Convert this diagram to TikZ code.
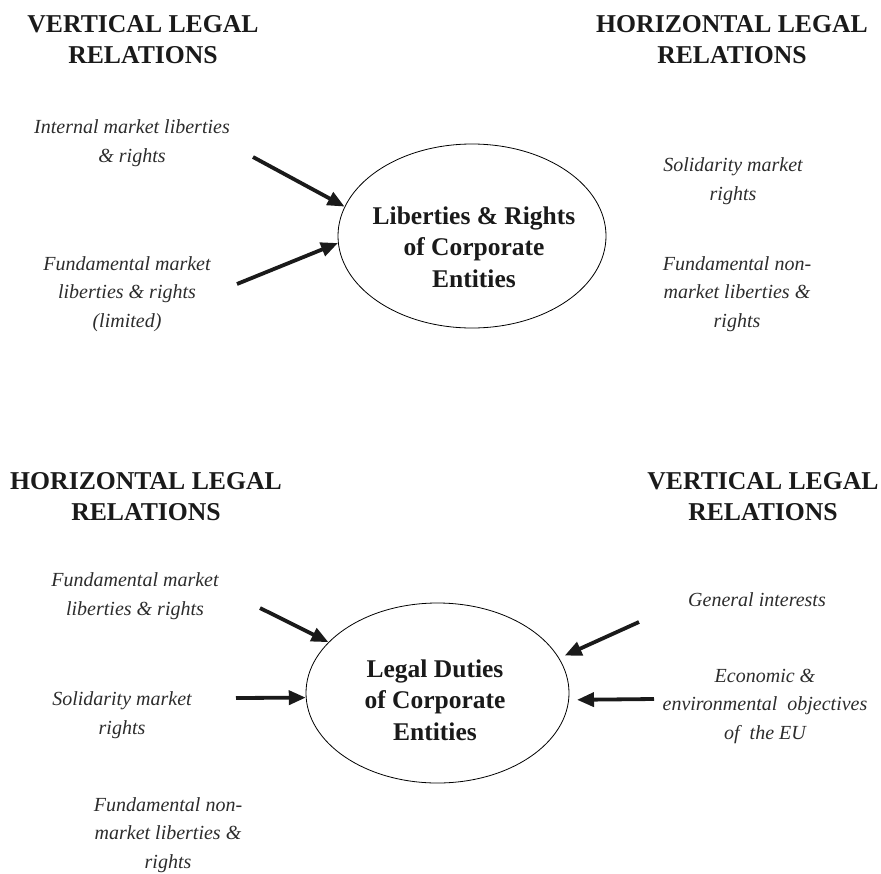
\documentclass[tikz,border=0pt]{standalone}
\usepackage{fontspec}
\setmainfont{Liberation Serif}
\usetikzlibrary{arrows.meta,shapes.geometric}
\definecolor{headink}{HTML}{1A1A1A}
\definecolor{bodyink}{HTML}{2C2C2C}
\begin{document}
\begin{tikzpicture}[x=1pt,y=-1pt,
  heading/.style={align=center,inner sep=0pt,text=headink,
    font=\fontsize{25.7}{31}\selectfont\bfseries},
  item/.style={align=center,inner sep=0pt,text=bodyink,
    font=\fontsize{20}{28.5}\selectfont\itshape},
  hub/.style={draw=black,line width=0.8pt,ellipse,inner sep=0pt},
  hubtext/.style={align=center,inner sep=0pt,text=headink,
    font=\fontsize{25.5}{31.5}\selectfont\bfseries},
  push/.style={line width=3.8pt,draw=headink,
    -{Triangle[length=17pt,width=14pt]}}]
\useasboundingbox (0,0) rectangle (881,873);

% upper diagram: liberties and rights
\node[heading] (h1) at (143,40) {VERTICAL LEGAL\\RELATIONS};
\node[heading] (h2) at (732,40) {HORIZONTAL LEGAL\\RELATIONS};
\node[item] (t1) at (132,143) {Internal market liberties\\\& rights};
\node[item] (t2) at (127,294) {Fundamental market\\liberties \& rights\\(limited)};
\node[item] (t3) at (733,181) {Solidarity market\\rights};
\node[item] (t4) at (737,294) {Fundamental non-\\market liberties \&\\rights};
\node[hub,minimum width=268pt,minimum height=184pt] (e1) at (472,236) {};
\node[hubtext] (e1t) at (474,247) {Liberties \& Rights\\of Corporate\\Entities};

\coordinate (a1) at (253,157);
\coordinate (a2) at (237,284);
\draw[push] (a1) -- (e1.167.6);
\draw[push] (a2) -- (e1.183.9);

% lower diagram: legal duties
\node[heading] (h3) at (146,497) {HORIZONTAL LEGAL\\RELATIONS};
\node[heading] (h4) at (763,497) {VERTICAL LEGAL\\RELATIONS};
\node[item] (b1) at (135,596) {Fundamental market\\liberties \& rights};
\node[item] (b2) at (122,715) {Solidarity market\\rights};
\node[item] (b3) at (168,835) {Fundamental non-\\market liberties \&\\rights};
\node[item] (b4) at (757,600) {General interests};
\node[item] (b5) at (765,706) {Economic \&\\environmental\ \ objectives\\of\ \ the EU};
\node[hub,minimum width=263pt,minimum height=180pt] (e2) at (437.5,693) {};
\node[hubtext] (e2t) at (435,700) {Legal Duties\\of Corporate\\Entities};

\coordinate (c1) at (260,608);
\coordinate (c2) at (236,698);
\coordinate (c3) at (639,622);
\coordinate (c4) at (654,699);
\draw[push] (c1) -- (e2.155.7);
\draw[push] (c2) -- (e2.182);
\draw[push,shorten >=6pt] (c3) -- (e2.16.2);
\draw[push,shorten >=8pt] (c4) -- (e2.357);
\end{tikzpicture}
\end{document}
